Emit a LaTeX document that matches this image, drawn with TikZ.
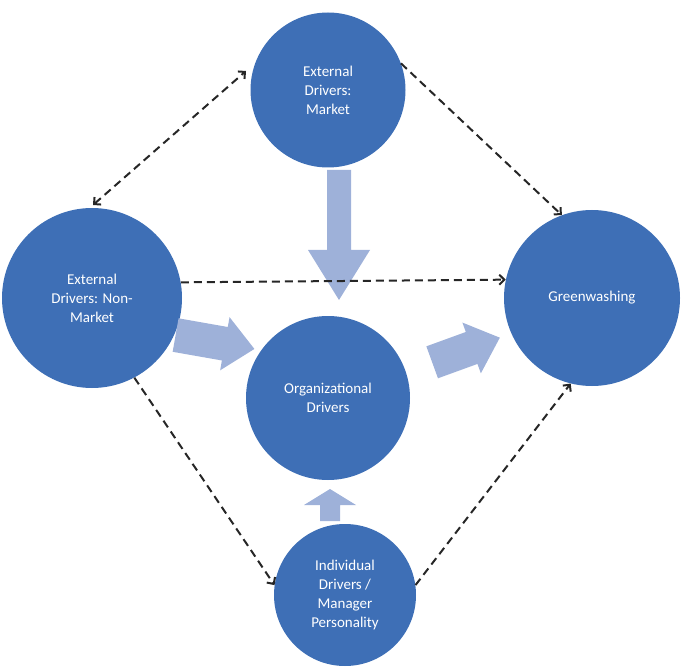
\documentclass[tikz,border=0pt]{standalone}
\usepackage{fontspec}
\setmainfont{Carlito}
\usetikzlibrary{arrows.meta}
\definecolor{circ}{HTML}{3E6FB6}
\definecolor{blk}{HTML}{9EB1D9}
% #1 center, #2 angle, #3 length, #4 half shaft, #5 half head, #6 head length
\newcommand\blockarrow[6]{%
 \fill[blk,shift={#1},rotate=#2] (-#3/2,-#4) -- (#3/2-#6,-#4) -- (#3/2-#6,-#5) -- (#3/2,0) -- (#3/2-#6,#5) -- (#3/2-#6,#4) -- (-#3/2,#4) -- cycle;}
\begin{document}
\begin{tikzpicture}[x=1pt,y=-1pt,
 c/.style={circle,fill=circ,text=white,align=center,font=\fontsize{15}{19}\selectfont,inner sep=0pt},
 da/.style={draw=black!85,line width=2pt,dash pattern=on 8pt off 5pt,-{Straight Barb[length=5pt,width=10pt]}}]
\useasboundingbox (0,0) rectangle (685,668);
\node[c,minimum size=155] (m) at (328,90) {External\\Drivers:\\Market};
\node[c,minimum size=180] (n) at (92,298) {External\\Drivers: Non-\\Market};
\node[c,minimum size=164] (o) at (328,398) {Organizational\\Drivers};
\node[c,minimum size=176] (g) at (592,298) {Greenwashing};
\blockarrow{(339,235)}{-90}{130}{12}{31}{50}
\blockarrow{(215,342)}{-10}{80}{17}{27}{30}
\blockarrow{(466,350)}{20}{72}{17}{27}{30}
\blockarrow{(330,505)}{90}{32}{10}{26}{16}
\node[c,minimum size=142] (i) at (345,595) {Individual\\Drivers /\\Manager\\Personality};
\coordinate (p1) at (246,71);
\coordinate (p2) at (93,205);
\draw[da,{Straight Barb[length=5pt,width=10pt]}-{Straight Barb[length=5pt,width=10pt]}] (p2) -- (p1);
\draw[da] (m.20) -- (g.110);
\draw[da] (n.10) -- (g.168);
\draw[da] (n.-62) -- (i.172);
\draw[da] (i.8) -- (g.-104);
\end{tikzpicture}
\end{document}
